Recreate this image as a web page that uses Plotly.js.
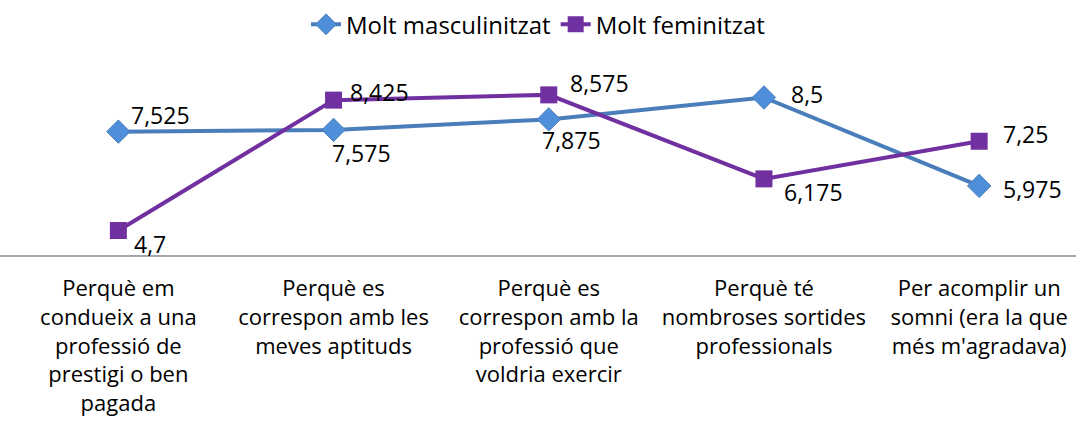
<!DOCTYPE html>
<html>
<head>
<meta charset="utf-8">
<script src="https://cdn.plot.ly/plotly-3.0.1.min.js"></script>
<style>html,body{margin:0;padding:0;background:#fff;}#chart{width:1076px;height:430px;}</style>
</head>
<body>
<div id="chart"></div>
<script>
var categories = [
  "Perquè em<br>condueix a una<br>professió de<br>prestigi o ben<br>pagada",
  "Perquè es<br>correspon amb les<br>meves aptituds",
  "Perquè es<br>correspon amb la<br>professió que<br>voldria exercir",
  "Perquè té<br>nombroses sortides<br>professionals",
  "Per acomplir un<br>somni (era la que<br>més m'agradava)"
];
var seriesNames = ["Molt masculinitzat", "Molt feminitzat"];
var masculinitzat = [7.525, 7.575, 7.875, 8.5, 5.975];
var feminitzat = [4.7, 8.425, 8.575, 6.175, 7.25];

// label offsets (style): [xshift, yshift] in px
var offM = [[11, 17], [-4, -23], [-9, -21], [25, 4], [22, -3]];
var offF = [[14, -13], [14, 8], [19, 12], [18, -13], [22, 7]];

var FONT = "'Open Sans', 'Noto Sans', sans-serif";
var xs = categories.map(function (c, i) { return i; });

function fmt(v) { return String(v).replace('.', ','); }

var traces = [
  {
    type: 'scatter', mode: 'lines+markers', name: seriesNames[0],
    x: xs, y: masculinitzat,
    line: {color: '#4a7ebb', width: 4},
    marker: {symbol: 'diamond', size: 18, color: '#4f8fd9', line: {color: '#4a7ebb', width: 1}},
    cliponaxis: false
  },
  {
    type: 'scatter', mode: 'lines+markers', name: seriesNames[1],
    x: xs, y: feminitzat,
    line: {color: '#7030a0', width: 4},
    marker: {symbol: 'square', size: 17, color: '#7030a0'},
    cliponaxis: false
  }
];

var annotations = [];
function addLabels(vals, offs) {
  vals.forEach(function (v, i) {
    annotations.push({
      x: xs[i], y: v, xref: 'x', yref: 'y', text: fmt(v), showarrow: false,
      xanchor: 'left', yanchor: 'middle', xshift: offs[i][0], yshift: offs[i][1],
      font: {family: FONT, size: 23, color: '#000'}
    });
  });
}
addLabels(masculinitzat, offM);
addLabels(feminitzat, offF);

var layout = {
  width: 1076, height: 430,
  margin: {l: 0, r: 0, t: 80, b: 175},
  paper_bgcolor: '#fff', plot_bgcolor: '#fff',
  font: {family: FONT, size: 20, color: '#000'},
  showlegend: true,
  legend: {orientation: 'h', x: 0.5, xanchor: 'center', y: 0.995, yref: 'container', yanchor: 'top',
           font: {family: FONT, size: 24, color: '#000'}},
  xaxis: {
    range: [-0.55, 4.45], tickvals: xs, ticktext: categories,
    showline: true, linecolor: '#a6a6a6', linewidth: 2, showgrid: false, zeroline: false,
    ticks: '', ticklabelstandoff: 13, tickfont: {family: FONT, size: 22, color: '#000'}, fixedrange: true
  },
  yaxis: {range: [4, 9], visible: false, showgrid: false, zeroline: false},
  annotations: annotations
};

Plotly.newPlot('chart', traces, layout, {displayModeBar: false, staticPlot: true});
</script>
</body>
</html>
